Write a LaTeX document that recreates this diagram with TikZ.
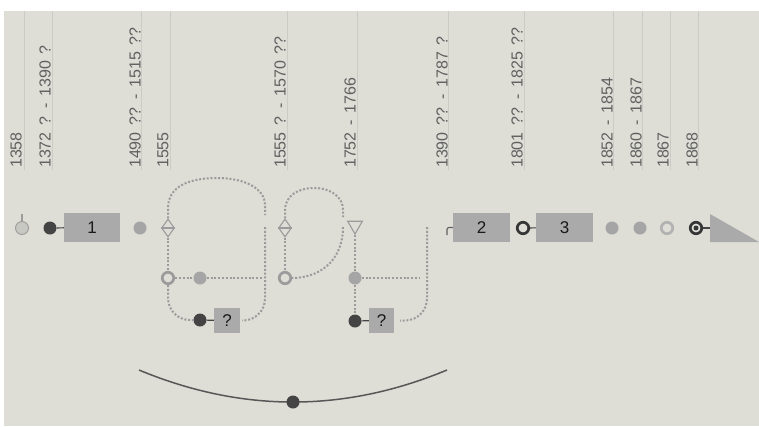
\documentclass[tikz,border=0pt]{standalone}
\usepackage{fontspec}
\setmainfont{Liberation Sans}
\newfontfamily\yrfont[WordSpace=1.5]{Liberation Sans}
\usetikzlibrary{shapes.geometric}
\definecolor{bgc}{RGB}{222,222,215}
\definecolor{vlc}{RGB}{204,204,198}
\definecolor{txc}{RGB}{96,96,96}
\definecolor{dkc}{RGB}{68,68,68}
\definecolor{mgc}{RGB}{165,165,165}
\definecolor{boxc}{RGB}{170,170,170}
\definecolor{dtc}{RGB}{155,155,155}
\definecolor{lgc}{RGB}{200,200,195}
\tikzset{
  vline/.style={draw=vlc, line width=0.9},
  yr/.style={font=\yrfont\fontsize{16}{16}\selectfont, text=txc, rotate=90, anchor=west, inner sep=0},
  dots/.style={draw=dtc, line width=2, dash pattern=on 2pt off 1.8pt},
  darkdot/.style={circle, fill=dkc, minimum size=13, inner sep=0},
  graydot/.style={circle, fill=mgc, minimum size=13, inner sep=0},
  hollow/.style={circle, draw=dtc, fill=bgc, line width=2.7, minimum size=11.5, inner sep=0},
  blackring/.style={circle, draw=dkc!80!black, fill=bgc, line width=2.7, minimum size=11.5, inner sep=0},
  gbox/.style={fill=boxc, inner sep=0, font=\fontsize{17}{17}\selectfont, text=black!90},
  solidc/.style={draw=dkc, line width=1.2},
  dmd/.style={diamond, draw=dtc, fill=bgc, line width=1.1, minimum width=13, minimum height=18, inner sep=0},
}
\begin{document}
\begin{tikzpicture}[x=1pt,y=-1pt]
\useasboundingbox (0,0) rectangle (759,426);
\fill[white] (0,0) rectangle (759,426);
\fill[bgc] (4,11) rectangle (759,426);

% year lines and labels
\foreach \lx/\tx/\lab [count=\i] in {
  24/16/1358,
  52/45/{1372 ? - 1390 ?},
  141/135/{1490 ?? - 1515 ??},
  170/163/1555,
  287/280/{1555 ? - 1570 ??},
  357/350/{1752 - 1766},
  448/442/{1390 ?? - 1787 ?},
  524/517/{1801 ?? - 1825 ??},
  613/607/{1852 - 1854},
  642/636/{1860 - 1867},
  670/663/1867,
  698/692/1868}{
  \draw[vline] (\lx,11) -- (\lx,170);
  \node[yr] (y\i) at (\tx,168) {\lab};
}

% main row, left part
\node[circle, fill=lgc, draw=dtc, line width=0.9, minimum size=13, inner sep=0] (c0) at (22,228) {};
\coordinate (t0) at (22,214);
\draw[dtc, line width=1.1] (c0.north) -- (t0);
\node[darkdot] (d1) at (50,228) {};
\node[gbox, minimum width=56, minimum height=29] (b1) at (92,227.5) {1};
\draw[solidc] (d1) -- (b1);
\node[graydot] (g0) at (140,228) {};

% group 1
\node[dmd] (dm1) at (168,228) {};
\draw[dtc, line width=1.1] (dm1.west) -- (dm1.east);
\node[hollow] (h1) at (168,278) {};
\node[graydot] (g1) at (200,278) {};
\node[darkdot] (d2) at (200,320) {};
\node[gbox, minimum width=26, minimum height=25] (q1) at (227,320.5) {?};
\coordinate (c1top) at (217,178);
\coordinate (g1a) at (265,215);
\coordinate (g1b) at (265,227);
\coordinate (g1h) at (262,278);
\draw[dots] (dm1.north) -- (168,208) .. controls (168,186) and (190,178) .. (c1top)
      .. controls (244,178) and (265,188) .. (265,205) -- (g1a);
\draw[dots] (dm1.south) -- (h1.north);
\draw[dots] (h1.east) -- (g1.west);
\draw[dots] (g1.east) -- (g1h);
\draw[dots, rounded corners=22] (h1.south) |- (d2.west);
\draw[dots, rounded corners=22] (g1b) |- ([xshift=2pt]q1.east);
\draw[solidc] (d2) -- (q1);

% group 2
\node[dmd] (dm2) at (285,228) {};
\draw[dtc, line width=1.1] (dm2.west) -- (dm2.east);
\node[hollow] (h2) at (285,278) {};
\coordinate (c2top) at (314,188);
\coordinate (g2a) at (343,217);
\coordinate (g2b) at (343,227);
\draw[dots] (dm2.north) -- (285,210) .. controls (285,196) and (298,188) .. (c2top)
      .. controls (331,188) and (343,197) .. (343,210) -- (g2a);
\draw[dots] (dm2.south) -- (h2.north);
\draw[dots] (g2b) .. controls (343,262) and (318,278) .. (h2.east);

\node[regular polygon, regular polygon sides=3, shape border rotate=180, draw=dtc, fill=bgc, line width=1.1, minimum size=17, inner sep=0] (tr) at (355,225.5) {};
\node[graydot] (g2) at (355,278) {};
\node[darkdot] (d3) at (355,321) {};
\node[gbox, minimum width=25, minimum height=25] (q2) at (381.5,320.5) {?};
\coordinate (g2h) at (420,278);
\coordinate (g2c) at (427,227);
\draw[dots] (tr.south) -- (g2.north);
\draw[dots] (g2.east) -- (g2h);
\draw[dots] (g2.south) -- (d3.north);
\draw[dots, rounded corners=22] (g2c) |- ([xshift=6pt]q2.east);
\draw[solidc] (d3) -- (q2);

% main row, right part
\node[gbox, minimum width=57, minimum height=29] (b2) at (481.5,227.5) {2};
\coordinate (hk) at (447,235);
\draw[txc, line width=1.1, rounded corners=2] (b2.west) -| (hk);
\node[blackring] (r1) at (523,228) {};
\node[gbox, minimum width=57, minimum height=29] (b3) at (564.5,227.5) {3};
\draw[solidc] (r1) -- (b3);
\node[graydot] (g3) at (612,228) {};
\node[graydot] (g4) at (640,228) {};
\node[circle, draw=mgc!85!white, fill=bgc, line width=2.7, minimum size=11.5, inner sep=0] (h3) at (667,228) {};
\node[blackring] (be) at (696,228) {};
\node[circle, fill=dkc!80!black, minimum size=5, inner sep=0] (bec) at (696,228) {};
\coordinate (trl) at (710,228);
\draw[solidc] (be.east) -- (trl);
\fill[boxc] (710,214) -- (710,242) -- (759,242) -- cycle;

% bottom arc
\coordinate (a1) at (139,370);
\coordinate (a2) at (447,370);
\draw[draw=dkc!90!white, line width=1.5] (a1) .. controls (241.7,412.7) and (344.3,412.7) .. (a2);
\node[darkdot] (bd) at (293,402) {};
\end{tikzpicture}
\end{document}
